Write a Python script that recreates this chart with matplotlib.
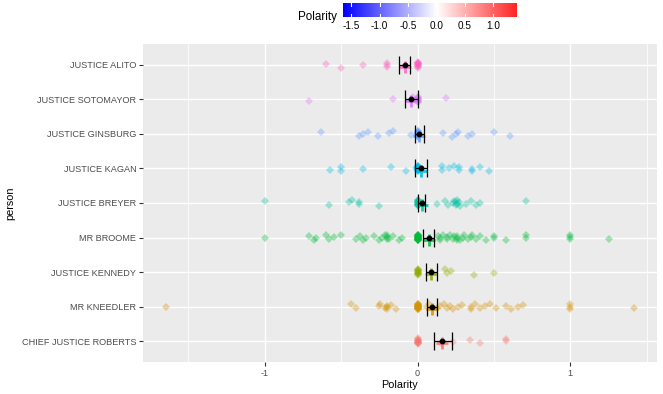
import numpy as np
import matplotlib
matplotlib.use("Agg")
import matplotlib.pyplot as plt
from matplotlib.colors import LinearSegmentedColormap

plt.rcParams['font.family'] = ['Liberation Sans', 'DejaVu Sans']

# ---------------- data (bottom to top) ----------------
persons = ["CHIEF JUSTICE ROBERTS", "MR KNEEDLER", "JUSTICE KENNEDY", "MR BROOME",
           "JUSTICE BREYER", "JUSTICE KAGAN", "JUSTICE GINSBURG",
           "JUSTICE SOTOMAYOR", "JUSTICE ALITO"]
colors = ["#F8766D", "#D39200", "#93AA00", "#00BA38", "#00C19F",
          "#00B9E3", "#619CFF", "#DB72FB", "#FF61C3"]

roberts = [0.16, 0.233, 0.342, 0.408, 0.578, 0.578]
kneedler = [-1.644, -0.437, -0.403, -0.254, -0.246, -0.213, -0.198, -0.198, -0.198,
            -0.176, -0.141, 0.06, 0.075, 0.13, 0.146, 0.173, 0.19, 0.212, 0.233,
            0.262, 0.288, 0.347, 0.347, 0.375, 0.408, 0.44, 0.473, 0.512, 0.578,
            0.61, 0.654, 0.689, 1.0, 1.0, 1.0, 1.414]
kennedy = [0.177, 0.19, 0.216, 0.369, 0.5]
broome = [-1.0, -0.71, -0.677, -0.666, -0.6, -0.58, -0.546, -0.5, -0.405, -0.376,
          -0.355, -0.337, -0.283, -0.25, -0.232, -0.213, -0.202, -0.202, -0.198,
          -0.185, -0.159, -0.12, -0.104, 0.133, 0.15, 0.15, 0.168, 0.19, 0.19, 0.21,
          0.233, 0.24, 0.26, 0.26, 0.26, 0.28, 0.3, 0.303, 0.33, 0.35, 0.353, 0.38,
          0.408, 0.447, 0.5, 0.5, 0.578, 0.707, 0.707, 1.0, 1.0, 1.0, 1.25]
breyer = [-1.0, -0.58, -0.45, -0.43, -0.385, -0.385, -0.254, 0.127, 0.18, 0.2,
          0.23, 0.24, 0.25, 0.25, 0.26, 0.26, 0.27, 0.28, 0.32, 0.35, 0.385, 0.41, 0.71]
kagan = [-0.575, -0.5, -0.5, -0.357, -0.176, -0.078, -0.01, 0.16, 0.16, 0.203,
         0.236, 0.273, 0.273, 0.355, 0.355, 0.406, 0.465]
ginsburg = [-0.63, -0.385, -0.36, -0.326, -0.26, -0.19, -0.16, -0.043, 0.164,
            0.223, 0.249, 0.264, 0.33, 0.356, 0.5, 0.604]
sotomayor = [-0.71, -0.16, -0.03, -0.02, 0.186]
alito = [-0.60, -0.50, -0.36, -0.20, -0.20, -0.20]

nonzero_values = [roberts, kneedler, kennedy, broome, breyer, kagan, ginsburg,
                  sotomayor, alito]
zero_counts = [12, 20, 12, 25, 15, 15, 15, 10, 12]

means = [0.157, 0.092, 0.086, 0.073, 0.029, 0.022, 0.009, -0.043, -0.084]
ci_lo = [0.105, 0.063, 0.053, 0.037, 0.005, -0.020, -0.020, -0.080, -0.120]
ci_hi = [0.223, 0.125, 0.129, 0.109, 0.050, 0.063, 0.044, 0.005, -0.048]

cbar_ticks = [-1.5, -1.0, -0.5, 0.0, 0.5, 1.0]
x_ticks = [-1, 0, 1]

# ---------------- figure ----------------
W, H = 663, 394
fig = plt.figure(figsize=(W / 100, H / 100), dpi=100)
L, R, T, B = 143, 657, 44, 362
ax = fig.add_axes([L / W, 1 - B / H, (R - L) / W, (B - T) / H])
ax.set_facecolor("#EBEBEB")
for s in ax.spines.values():
    s.set_visible(False)

all_vals = np.concatenate([np.array(v, float) for v in nonzero_values])
vmin, vmax = all_vals.min(), all_vals.max()
pad = 0.05 * (vmax - vmin)
ax.set_xlim(vmin - pad, vmax + pad)
ax.set_ylim(-0.6, len(persons) - 1 + 0.6)

# grid
for xm in [-1.5, -0.5, 0.5, 1.5]:
    ax.axvline(xm, color="white", lw=0.55, zorder=0)
for xm in x_ticks:
    ax.axvline(xm, color="white", lw=1.0, zorder=0)
for i in range(len(persons)):
    ax.axhline(i, color="white", lw=1.0, zorder=0)

# points
for i, (vals, nz, col) in enumerate(zip(nonzero_values, zero_counts, colors)):
    v = np.array(list(vals) + [0.0] * nz, float)
    k = np.arange(len(v))
    jit = (((k * 37 + i * 5) % 11) - 5) / 5.0 * 0.08
    ax.plot(v, i + jit, linestyle="none", marker="D", ms=4.2, mew=0,
            color=col, alpha=0.35, zorder=2)

# colored crosses at mean
for i, (m, col) in enumerate(zip(means, colors)):
    ax.plot([m], [i - 0.06], marker="+", ms=9, mew=2.0, color=col, alpha=0.85,
            zorder=3, linestyle="none")

# black mean + error bars
y = np.arange(len(persons))
m = np.array(means)
xerr = np.vstack([m - np.array(ci_lo), np.array(ci_hi) - m])
ax.errorbar(m, y, xerr=xerr, fmt="o", color="black", ms=3.2, elinewidth=0.9,
            capsize=6.2, capthick=0.9, zorder=5)

ax.set_xticks(x_ticks)
ax.set_xticklabels([str(t) for t in x_ticks])
ax.set_yticks(y)
ax.set_yticklabels(persons)
ax.tick_params(axis="both", colors="#333333", labelcolor="#4D4D4D",
               labelsize=6.6, length=2.8, width=0.8, pad=2)
ax.set_xlabel("Polarity", fontsize=7.8, color="black", labelpad=2)
ax.set_ylabel("person", fontsize=7.8, color="black", labelpad=5)

# ---------------- colorbar legend ----------------
cL, cR, cT, cB = 343, 517, 3, 17
cax = fig.add_axes([cL / W, 1 - cB / H, (cR - cL) / W, (cB - cT) / H])
cmap = LinearSegmentedColormap.from_list("bwr2", ["#0000FF", "#FFFFFF", "#FF0000"])
span = max(abs(vmin), abs(vmax))
grid = np.linspace(vmin, vmax, 300)
cvals = grid / span / 2 + 0.5
cax.imshow(cmap(cvals)[None, :, :], aspect="auto", extent=[vmin, vmax, 0, 1])
cax.set_xlim(vmin, vmax)
cax.set_ylim(0, 1)
for t in cbar_ticks:
    cax.plot([t, t], [0, 0.2], color="white", lw=0.8)
    cax.plot([t, t], [0.8, 1], color="white", lw=0.8)
for s in cax.spines.values():
    s.set_visible(False)
cax.set_yticks([])
cax.set_xticks(cbar_ticks)
cax.set_xticklabels([f"{t:.1f}" for t in cbar_ticks])
cax.tick_params(axis="x", length=0, labelsize=7.2, labelcolor="black", pad=3)
fig.text(337 / W, 1 - 17 / H, "Polarity", ha="right", va="center",
         fontsize=8.4, color="black")

fig.savefig("out.png", dpi=100, facecolor="white")
